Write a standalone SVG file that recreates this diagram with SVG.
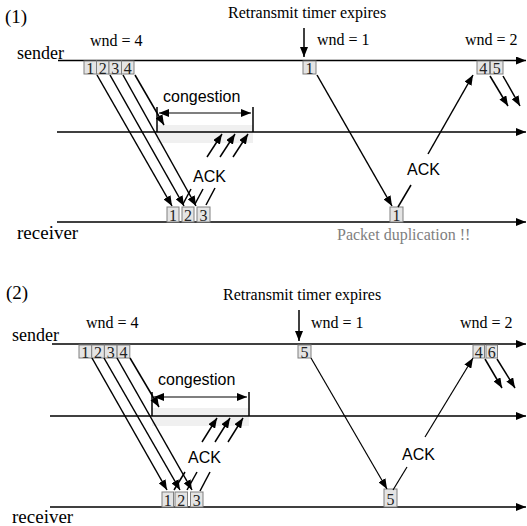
<svg xmlns="http://www.w3.org/2000/svg" width="527" height="526" viewBox="0 0 527 526">
<defs>
<marker id="ah" markerUnits="userSpaceOnUse" markerWidth="10" markerHeight="8" refX="10" refY="4" orient="auto-start-reverse"><path d="M0,0 L10,4 L0,8 z" fill="#000"/></marker>
</defs>
<style>
.serif{font-family:'Liberation Serif','Times New Roman','DejaVu Serif',serif;fill:#000}
.sans{font-family:'Liberation Sans',Arial,sans-serif;font-size:16px;fill:#000}
.lbl{font-size:16px}
.big{font-size:19px}
.box rect{fill:#e4e4e4;stroke:#808080;stroke-width:1}
.box text{font-family:'Liberation Serif','Times New Roman','DejaVu Serif',serif;font-size:16px;fill:#222;text-anchor:middle}
.tl{stroke:#000;stroke-width:1.5;fill:none;marker-end:url(#ah)}
.pk{stroke:#000;stroke-width:1.5;fill:none}
.pa{stroke:#000;stroke-width:1.5;fill:none;marker-end:url(#ah)}
.shade{fill:#f0f0f0}
.bar{stroke:#000;stroke-width:1.5}
.dbl{stroke:#000;stroke-width:1.2;marker-start:url(#ah);marker-end:url(#ah)}
.gray{fill:#808080}
</style>

<!-- ===== Part 1 ===== -->
<g id="part1">
<text class="serif big" x="5" y="23">(1)</text>
<text class="serif lbl" x="228" y="18">Retransmit timer expires</text>
<text class="serif lbl" x="90" y="46">wnd = 4</text>
<text class="serif lbl" x="317" y="45">wnd = 1</text>
<text class="serif lbl" x="465" y="45">wnd = 2</text>
<text class="serif" font-size="18" x="17" y="59">sender</text>
<text class="serif" font-size="19" x="17" y="239">receiver</text>
<text class="serif lbl gray" x="337" y="240" style="fill:#808080">Packet duplication !!</text>
<rect class="shade" x="157" y="125" width="96" height="18"/>
<text class="sans" x="163" y="102">congestion</text>
<text class="sans" x="193" y="182">ACK</text>
<text class="sans" x="407" y="175">ACK</text>
</g>

<g id="timelines1">
<line class="tl" x1="58" y1="60.5" x2="526" y2="60.5"/>
<line class="tl" x1="57" y1="132" x2="526" y2="132"/>
<line class="tl" x1="57" y1="222" x2="526" y2="222"/>
</g>

<g id="congestion1">
<line class="bar" x1="157" y1="107" x2="157" y2="132"/>
<line class="bar" x1="253" y1="107" x2="253" y2="132"/>
<line class="dbl" x1="159" y1="113" x2="251" y2="113"/>
</g>

<g id="s1-p1" class="box"><rect x="84" y="61" width="12.5" height="13"/><text x="90.25" y="73.5">1</text></g>
<g id="s1-p2" class="box"><rect x="96.5" y="61" width="12.5" height="13"/><text x="102.75" y="73.5">2</text></g>
<g id="s1-p3" class="box"><rect x="109" y="61" width="12.5" height="13"/><text x="115.25" y="73.5">3</text></g>
<g id="s1-p4" class="box"><rect x="121.5" y="61" width="12.5" height="13"/><text x="127.75" y="73.5">4</text></g>
<g id="s1-r1" class="box"><rect x="303" y="61" width="13" height="13"/><text x="309.5" y="73.5">1</text></g>
<g id="s1-p4b" class="box"><rect x="477" y="61" width="12.5" height="13"/><text x="483.25" y="73.5">4</text></g>
<g id="s1-p5" class="box"><rect x="490.5" y="61" width="12.5" height="13"/><text x="496.75" y="73.5">5</text></g>
<g id="r1-p1" class="box"><rect x="167" y="207" width="12" height="15"/><text x="173" y="220.5">1</text></g>
<g id="r1-p2" class="box"><rect x="182" y="207" width="12" height="15"/><text x="188" y="220.5">2</text></g>
<g id="r1-p3" class="box"><rect x="197" y="207" width="13" height="15"/><text x="203.5" y="220.5">3</text></g>
<g id="r1-r1" class="box"><rect x="390" y="207" width="13" height="15"/><text x="396.5" y="220.5">1</text></g>

<g id="connectors1">
<line class="pa" x1="304" y1="28" x2="304" y2="57"/>
<line class="pa" x1="97" y1="75" x2="172" y2="206"/>
<line class="pa" x1="110" y1="75" x2="184" y2="206"/>
<line class="pa" x1="123" y1="75" x2="196" y2="206"/>
<line class="pa" x1="135" y1="75" x2="164" y2="125"/>
<line class="pk" x1="183" y1="204" x2="191" y2="189"/>
<line class="pk" x1="195" y1="204" x2="203" y2="189"/>
<line class="pk" x1="206" y1="205" x2="215" y2="188"/>
<line class="pa" x1="207" y1="157" x2="222" y2="134"/>
<line class="pa" x1="220" y1="157" x2="235" y2="134"/>
<line class="pa" x1="233" y1="157" x2="248" y2="134"/>
<line class="pa" x1="317" y1="75" x2="392" y2="206"/>
<line class="pk" x1="398" y1="207" x2="411" y2="185"/>
<line class="pa" x1="428" y1="154" x2="473" y2="75"/>
<line class="pa" x1="490" y1="76" x2="508" y2="106"/>
<line class="pa" x1="503" y1="76" x2="520" y2="106"/>
</g>

<!-- ===== Part 2 ===== -->
<g id="part2">
<text class="serif big" x="6" y="299">(2)</text>
<text class="serif lbl" x="223" y="300">Retransmit timer expires</text>
<text class="serif lbl" x="86" y="328">wnd = 4</text>
<text class="serif lbl" x="311" y="328">wnd = 1</text>
<text class="serif lbl" x="460" y="328">wnd = 2</text>
<text class="serif" font-size="18" x="12" y="341">sender</text>
<text class="serif" font-size="19" x="12" y="523">receiver</text>
<rect class="shade" x="152" y="408" width="97" height="18"/>
<text class="sans" x="158" y="385">congestion</text>
<text class="sans" x="188" y="463">ACK</text>
<text class="sans" x="402" y="460">ACK</text>
</g>

<g id="timelines2">
<line class="tl" x1="52" y1="344" x2="526" y2="344"/>
<line class="tl" x1="50" y1="416" x2="526" y2="416"/>
<line class="tl" x1="50" y1="507" x2="526" y2="507"/>
</g>

<g id="congestion2">
<line class="bar" x1="152" y1="392" x2="152" y2="416"/>
<line class="bar" x1="249" y1="392" x2="249" y2="416"/>
<line class="dbl" x1="154" y1="397" x2="247" y2="397"/>
</g>

<g id="s2-p1" class="box"><rect x="79" y="345" width="12.7" height="13"/><text x="85.35" y="357.5">1</text></g>
<g id="s2-p2" class="box"><rect x="91.7" y="345" width="12.7" height="13"/><text x="98.05" y="357.5">2</text></g>
<g id="s2-p3" class="box"><rect x="104.4" y="345" width="12.7" height="13"/><text x="110.75" y="357.5">3</text></g>
<g id="s2-p4" class="box"><rect x="117.1" y="345" width="12.7" height="13"/><text x="123.45" y="357.5">4</text></g>
<g id="s2-p5" class="box"><rect x="298" y="345" width="13" height="13"/><text x="304.5" y="357.5">5</text></g>
<g id="s2-p4b" class="box"><rect x="473" y="345" width="11.5" height="13"/><text x="478.75" y="357.5">4</text></g>
<g id="s2-p6" class="box"><rect x="486" y="345" width="11.5" height="13"/><text x="491.75" y="357.5">6</text></g>
<g id="r2-p1" class="box"><rect x="162" y="492" width="11.5" height="15"/><text x="167.75" y="505.5">1</text></g>
<g id="r2-p2" class="box"><rect x="175" y="492" width="12.5" height="15"/><text x="181.25" y="505.5">2</text></g>
<g id="r2-p3" class="box"><rect x="190.5" y="492" width="12.5" height="15"/><text x="196.75" y="505.5">3</text></g>
<g id="r2-p5" class="box"><rect x="384" y="489" width="13" height="18"/><text x="390.5" y="504.5">5</text></g>

<g id="connectors2">
<line class="pa" x1="299" y1="310" x2="299" y2="341"/>
<line class="pa" x1="92" y1="358" x2="167" y2="490"/>
<line class="pa" x1="104" y1="358" x2="180" y2="490"/>
<line class="pa" x1="117" y1="358" x2="192" y2="490"/>
<line class="pa" x1="130" y1="358" x2="159" y2="407"/>
<line class="pk" x1="174" y1="490" x2="185" y2="472"/>
<line class="pk" x1="187" y1="490" x2="197" y2="472"/>
<line class="pk" x1="200" y1="491" x2="210" y2="472"/>
<line class="pa" x1="202" y1="442" x2="217" y2="418"/>
<line class="pa" x1="215" y1="442" x2="230" y2="418"/>
<line class="pa" x1="228" y1="442" x2="243" y2="418"/>
<line class="pa" x1="311" y1="358" x2="387" y2="489" style="stroke-width:1.2"/>
<line class="pk" x1="393" y1="490" x2="407" y2="467" style="stroke-width:1.2"/>
<line class="pa" x1="425" y1="437" x2="473" y2="358" style="stroke-width:1.2"/>
<line class="pa" x1="485" y1="359" x2="502" y2="388"/>
<line class="pa" x1="497" y1="359" x2="515" y2="388"/>
</g>
</svg>
